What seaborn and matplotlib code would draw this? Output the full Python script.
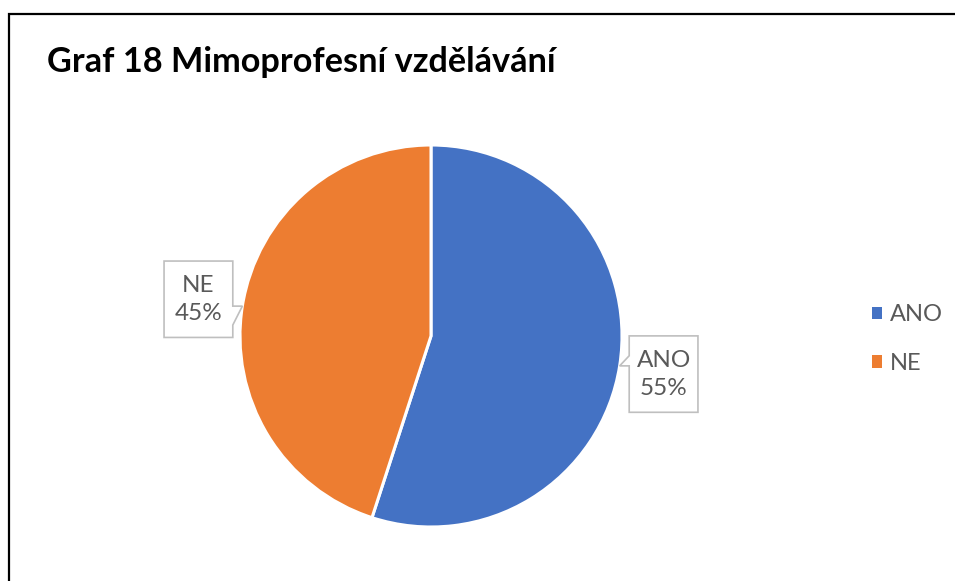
import numpy as np
import matplotlib
matplotlib.use("Agg")
import matplotlib.pyplot as plt
from matplotlib.patches import Polygon, Patch
from matplotlib.lines import Line2D
import seaborn as sns

# ---- data ----
categories = ["ANO", "NE"]
values = [55, 45]
pct_labels = ["55%", "45%"]
title = "Graf 18 Mimoprofesní vzdělávání"

sns.set_theme(style="white")
plt.rcParams["font.family"] = ["Lato", "DejaVu Sans"]

colors = ["#4472C4", "#ED7D31"]
txt_color = "#595959"

W, H = 955, 581
fig = plt.figure(figsize=(W / 100, H / 100), dpi=100)
fig.patch.set_facecolor("white")

cx, cy, r = 431, 336, 191
ax = fig.add_axes([(cx - r) / W, (H - cy - r) / H, 2 * r / W, 2 * r / H])
wedges, _ = ax.pie(values, colors=colors, startangle=90, counterclock=False,
                   wedgeprops=dict(edgecolor="white", linewidth=2.2))
ax.set_xlim(-1, 1)
ax.set_ylim(-1, 1)
ax.set_aspect("equal")
ax.axis("off")

# callout layout (box offsets in pie-radius units)
box_w, box_h = 0.36, 0.40
gap = 0.05
for w, cat, pl in zip(wedges, categories, pct_labels):
    mid = np.deg2rad((w.theta1 + w.theta2) / 2)
    tx, ty = np.cos(mid), np.sin(mid)
    if tx >= 0:  # box to the right, pointer on its left edge
        l = tx + gap
        rgt = l + box_w
        t = ty + 0.157
        b = t - box_h
        pts = [(l, t), (rgt, t), (rgt, b), (l, b), (l, ty), (tx, ty), (l, ty + 0.053)]
    else:  # box to the left, pointer on its right edge
        rgt = tx - gap
        l = rgt - box_w
        t = ty + 0.236
        b = t - box_h
        pts = [(l, t), (rgt, t), (rgt, ty), (tx, ty), (rgt, ty - 0.099), (rgt, b), (l, b)]
    poly = Polygon(pts, closed=True, facecolor="white", edgecolor="#BFBFBF",
                   linewidth=1.2, clip_on=False, zorder=5)
    ax.add_patch(poly)
    ax.text((l + rgt) / 2, (t + b) / 2, f"{cat}\n{pl}", ha="center", va="center",
            fontsize=17.5, color=txt_color, linespacing=1.42, zorder=6, clip_on=False)

# title
fig.text(47 / W, 1 - 72 / H, title, fontsize=24.7, fontweight="bold", color="black",
         ha="left", va="baseline")

# legend
handles = [Patch(facecolor=c, edgecolor="none") for c in colors]
leg = fig.legend(handles, categories, loc="center left",
                 bbox_to_anchor=(860 / W, 1 - 339 / H), frameon=False,
                 fontsize=17, handlelength=0.45, handleheight=0.45,
                 handletextpad=0.32, labelspacing=1.15, borderpad=0.0)
for tx_ in leg.get_texts():
    tx_.set_color(txt_color)

# border (left and top)
x0 = 8.5 / W
y0 = 1 - 13.5 / H
fig.add_artist(Line2D([x0, x0, 1.0], [0.0, y0, y0], transform=fig.transFigure,
                      color="black", linewidth=1.6, solid_joinstyle="miter"))

fig.savefig("out.png", dpi=100, facecolor="white")
